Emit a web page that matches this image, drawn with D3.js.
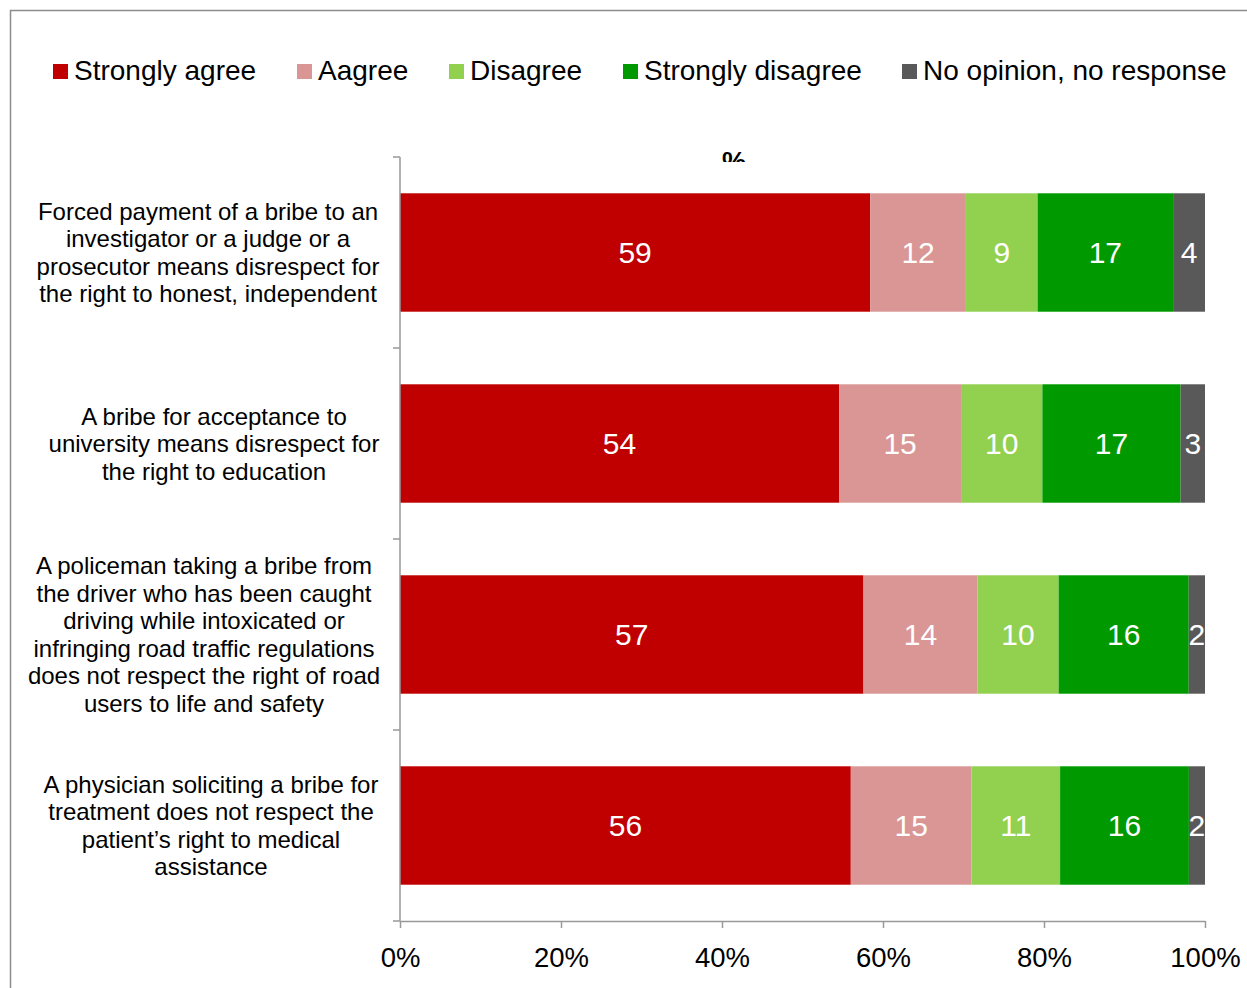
<!DOCTYPE html>
<html>
<head>
<meta charset="utf-8">
<script src="https://cdn.jsdelivr.net/npm/d3@7"></script>
<style>
  html, body { margin: 0; padding: 0; background: #fff; }
  svg { display: block; font-family: "Liberation Sans", Arial, sans-serif; }
</style>
</head>
<body>
<svg id="chart" width="1247" height="988"></svg>
<script>
// Survey answers, percent of respondents per statement
const seriesNames = ["Strongly agree", "Aagree", "Disagree", "Strongly disagree", "No opinion, no response"];
const seriesColors = ["#C00000", "#D99694", "#92D050", "#009900", "#595959"];

const categories = [
  ["Forced payment of a bribe to an", "investigator or a judge or a", "prosecutor means disrespect for", "the right to honest, independent"],
  ["A bribe for acceptance to", "university means disrespect for", "the right to education"],
  ["A policeman taking a bribe from", "the driver who has been caught", "driving while intoxicated or", "infringing road traffic regulations", "does not respect the right of road", "users to life and safety"],
  ["A physician soliciting a bribe for", "treatment does not respect the", "patient\u2019s right to medical", "assistance"]
];

const stronglyAgree    = [59, 54, 57, 56];
const agree            = [12, 15, 14, 15];
const disagree         = [9, 10, 10, 11];
const stronglyDisagree = [17, 17, 16, 16];
const noOpinion        = [4, 3, 2, 2];

const xTicks = [0, 0.2, 0.4, 0.6, 0.8, 1];

const rows = categories.map((c, i) => ({
  idx: i,
  s0: stronglyAgree[i], s1: agree[i], s2: disagree[i], s3: stronglyDisagree[i], s4: noOpinion[i]
}));
const keys = ["s0", "s1", "s2", "s3", "s4"];

const svg = d3.select("#chart");

// outer frame
svg.append("rect")
  .attr("x", 10.5).attr("y", 10.5)
  .attr("width", 1260).attr("height", 1000)
  .attr("fill", "none").attr("stroke", "#8c8c8c").attr("stroke-width", 1.5);

const plot = { left: 400, right: 1205, top: 157, bottom: 921 };

const x = d3.scaleLinear().domain([0, 1]).range([plot.left, plot.right]);
const y = d3.scaleBand().domain(d3.range(categories.length))
  .range([plot.top, plot.bottom]).paddingInner(0.38).paddingOuter(0.19);

const stack = d3.stack().keys(keys).offset(d3.stackOffsetExpand);
const layers = stack(rows);

// stacked bars
const g = svg.append("g");
layers.forEach((layer, li) => {
  g.selectAll(null).data(layer).enter().append("rect")
    .attr("x", d => x(d[0]))
    .attr("y", d => y(d.data.idx))
    .attr("width", d => x(d[1]) - x(d[0]))
    .attr("height", y.bandwidth())
    .attr("fill", seriesColors[li]);

  g.selectAll(null).data(layer).enter().append("text")
    .attr("x", d => (x(d[0]) + x(d[1])) / 2)
    .attr("y", d => y(d.data.idx) + y.bandwidth() / 2)
    .attr("dy", "0.36em")
    .attr("text-anchor", "middle")
    .attr("fill", "#fff")
    .attr("font-size", 30)
    .text(d => d.data[keys[li]]);
});

// x axis
const xAxis = svg.append("g")
  .attr("transform", `translate(0,${plot.bottom})`)
  .call(d3.axisBottom(x).tickValues(xTicks).tickFormat(d3.format(".0%")).tickSize(7).tickPadding(19).tickSizeOuter(0));
xAxis.select(".domain").attr("stroke", "#999").attr("stroke-width", 1.5);
xAxis.selectAll(".tick line").attr("stroke", "#999").attr("stroke-width", 1.5);
xAxis.selectAll(".tick text").attr("font-size", 27.5).attr("fill", "#000")
  .attr("font-family", "'Liberation Sans', Arial, sans-serif");

// y axis with ticks at band boundaries
const step = y.step();
const boundaries = d3.range(categories.length + 1).map(i => plot.top + i * step);
const yAxis = svg.append("g");
yAxis.append("line")
  .attr("x1", plot.left).attr("x2", plot.left)
  .attr("y1", plot.top).attr("y2", plot.bottom)
  .attr("stroke", "#999").attr("stroke-width", 1.5);
yAxis.selectAll(null).data(boundaries).enter().append("line")
  .attr("x1", plot.left - 7).attr("x2", plot.left)
  .attr("y1", d => d).attr("y2", d => d)
  .attr("stroke", "#999").attr("stroke-width", 1.5);

// category labels, each wrapped block centred on its own column
const labelCenters = [208, 214, 204, 211];
const lineH = 27.5;
categories.forEach((lines, i) => {
  const cy = y(i) + y.bandwidth() / 2;
  const t = svg.append("text")
    .attr("text-anchor", "middle")
    .attr("font-size", 24)
    .attr("fill", "#000");
  lines.forEach((ln, j) => {
    t.append("tspan")
      .attr("x", labelCenters[i])
      .attr("y", cy + (j - (lines.length - 1) / 2) * lineH)
      .attr("dy", "0.36em")
      .text(ln);
  });
});

// axis unit title, cut off by the plot top
svg.append("clipPath").attr("id", "unitClip")
  .append("rect").attr("x", 600).attr("y", 120).attr("width", 300).attr("height", 42);
svg.append("text")
  .attr("clip-path", "url(#unitClip)")
  .attr("x", 734).attr("y", 171)
  .attr("text-anchor", "middle")
  .attr("font-size", 27).attr("font-weight", "bold")
  .attr("fill", "#000")
  .text("%");

// legend
const legendX = [53, 297, 449, 623, 902];
const legend = svg.append("g");
seriesNames.forEach((name, i) => {
  legend.append("rect")
    .attr("x", legendX[i]).attr("y", 64)
    .attr("width", 15).attr("height", 15)
    .attr("fill", seriesColors[i]);
  legend.append("text")
    .attr("x", legendX[i] + 21).attr("y", 80)
    .attr("font-size", 28)
    .attr("fill", "#000")
    .text(name);
});
</script>
</body>
</html>
